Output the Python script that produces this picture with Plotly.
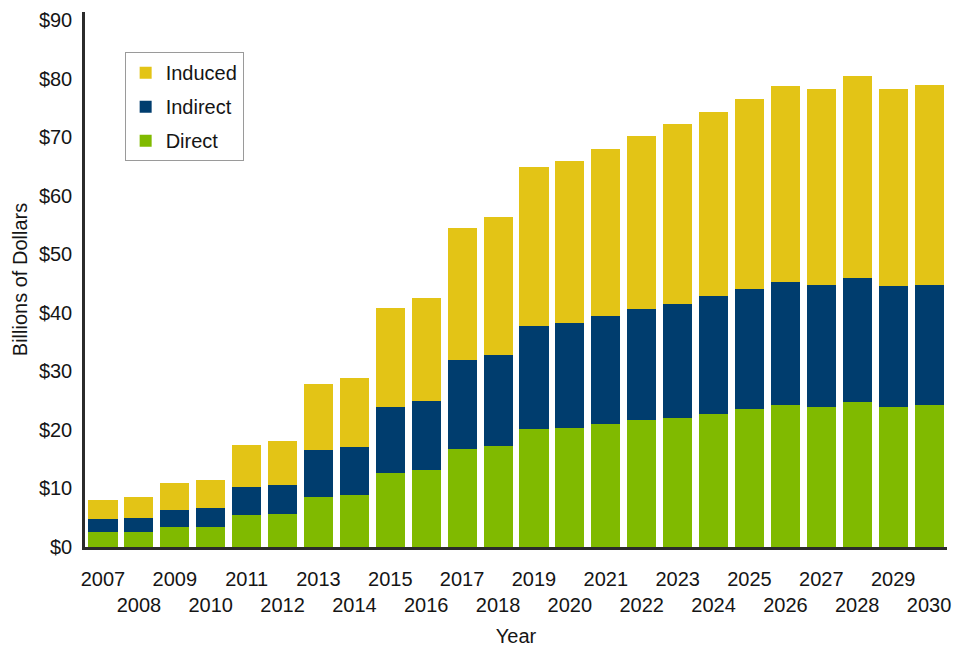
import plotly.graph_objects as go

years = [str(y) for y in range(2007, 2031)]
tick_labels = [y if int(y) % 2 == 1 else "<br>" + y for y in years]

direct = [2.5, 2.5, 3.5, 3.5, 5.4, 5.6, 8.6, 8.8, 12.6, 13.1, 16.8, 17.3,
          20.1, 20.3, 21.0, 21.7, 22.1, 22.8, 23.5, 24.2, 24.0, 24.7, 24.0, 24.2]
indirect = [2.3, 2.5, 2.8, 3.1, 4.8, 5.0, 7.9, 8.2, 11.4, 11.8, 15.2, 15.5,
            17.7, 17.9, 18.4, 18.9, 19.4, 20.1, 20.6, 21.1, 20.8, 21.2, 20.6, 20.6]
induced = [3.3, 3.5, 4.6, 4.8, 7.2, 7.5, 11.4, 11.9, 16.9, 17.6, 22.5, 23.5,
           27.2, 27.7, 28.6, 29.7, 30.7, 31.4, 32.5, 33.4, 33.4, 34.5, 33.6, 34.2]

y_ticks = [0, 10, 20, 30, 40, 50, 60, 70, 80, 90]
y_tick_labels = ["$" + str(v) for v in y_ticks]

colors = {"Direct": "#80BA00", "Indirect": "#003D6E", "Induced": "#E3C416"}
ranks = {"Induced": 1, "Indirect": 2, "Direct": 3}
FONT = "Liberation Sans, Arial, sans-serif"

fig = go.Figure()
for name, vals in [("Direct", direct), ("Indirect", indirect), ("Induced", induced)]:
    fig.add_trace(go.Bar(
        x=years, y=vals, name=name, legendgroup=name, legendrank=ranks[name],
        marker=dict(color=colors[name], line=dict(width=0)),
    ))

fig.update_layout(
    barmode="stack",
    bargap=0.19,
    width=956, height=647,
    margin=dict(l=85, r=9, t=12, b=100),
    paper_bgcolor="white",
    plot_bgcolor="white",
    font=dict(family=FONT, size=20, color="#151515"),
    showlegend=True,
    legend=dict(
        traceorder="grouped",
        x=0.046, y=0.925, xanchor="left", yanchor="top",
        bgcolor="white", bordercolor="#9a9a9a", borderwidth=1,
        font=dict(size=20, family=FONT, color="#151515"),
        itemwidth=30, tracegroupgap=5,
    ),
    xaxis=dict(
        type="category", automargin=False,
        tickmode="array", tickvals=years, ticktext=tick_labels,
        range=[-0.5, 23.5],
        showline=True, linecolor="#2b2b2b", linewidth=2.5,
        showgrid=False, ticks="", ticklabelstandoff=12,
        ticklabeloverflow="allow",
        title=dict(text="Year", font=dict(size=20), standoff=20),
        tickangle=0,
    ),
    yaxis=dict(
        range=[0, 91.4], automargin=False,
        tickmode="array", tickvals=y_ticks, ticktext=y_tick_labels,
        showline=True, linecolor="#2b2b2b", linewidth=2.5,
        showgrid=False, zeroline=False, ticks="", ticklabelstandoff=6,
        title=dict(text="Billions of Dollars", font=dict(size=20), standoff=6),
    ),
)

fig.write_html("out.html", config={"displayModeBar": False},
               post_script="document.body.style.margin='0';")
